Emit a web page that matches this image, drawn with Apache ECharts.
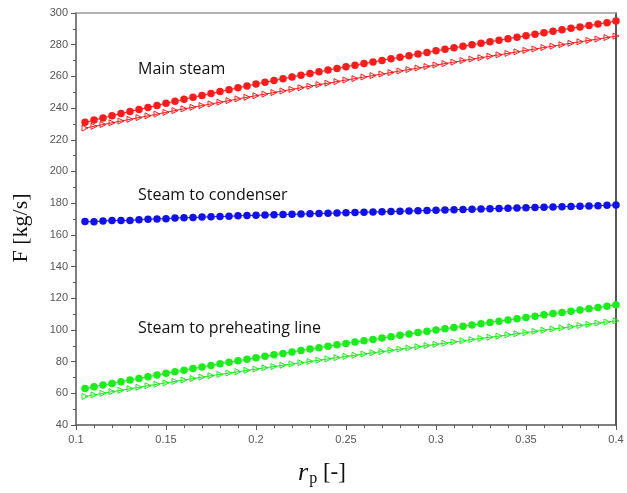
<!DOCTYPE html>
<html>
<head>
<meta charset="utf-8">
<script src="https://cdn.jsdelivr.net/npm/echarts@6/dist/echarts.min.js"></script>
<style>
  html, body { margin: 0; padding: 0; background: #fff; }
  #chart { width: 627px; height: 493px; }
</style>
</head>
<body>
<div id="chart"></div>
<script>
// r_p values, 0.105 .. 0.400 in steps of 0.005 (60 points)
const rp = [
  0.105, 0.110, 0.115, 0.120, 0.125, 0.130, 0.135, 0.140, 0.145, 0.150,
  0.155, 0.160, 0.165, 0.170, 0.175, 0.180, 0.185, 0.190, 0.195, 0.200,
  0.205, 0.210, 0.215, 0.220, 0.225, 0.230, 0.235, 0.240, 0.245, 0.250,
  0.255, 0.260, 0.265, 0.270, 0.275, 0.280, 0.285, 0.290, 0.295, 0.300,
  0.305, 0.310, 0.315, 0.320, 0.325, 0.330, 0.335, 0.340, 0.345, 0.350,
  0.355, 0.360, 0.365, 0.370, 0.375, 0.380, 0.385, 0.390, 0.395, 0.400
];

// main steam, filled circles
const mainSteamA = [
  231.0, 232.4, 233.8, 235.1, 236.5, 237.8, 239.1, 240.4, 241.7, 243.0,
  244.3, 245.5, 246.8, 248.0, 249.2, 250.4, 251.6, 252.8, 254.0, 255.2,
  256.3, 257.4, 258.5, 259.6, 260.7, 261.8, 262.9, 264.0, 265.0, 266.1,
  267.1, 268.1, 269.1, 270.1, 271.1, 272.1, 273.1, 274.1, 275.1, 276.1,
  277.1, 278.0, 279.0, 280.0, 280.9, 281.9, 282.8, 283.8, 284.7, 285.7,
  286.6, 287.5, 288.5, 289.4, 290.3, 291.2, 292.1, 293.0, 293.9, 294.9
];
// main steam, hollow triangles
const mainSteamB = [
  227.4, 228.5, 229.6, 230.7, 231.8, 232.9, 234.0, 235.1, 236.2, 237.3,
  238.4, 239.5, 240.5, 241.6, 242.6, 243.7, 244.7, 245.8, 246.8, 247.8,
  248.8, 249.8, 250.8, 251.8, 252.8, 253.8, 254.8, 255.7, 256.7, 257.7,
  258.6, 259.6, 260.5, 261.5, 262.4, 263.4, 264.3, 265.3, 266.2, 267.2,
  268.1, 269.0, 270.0, 270.9, 271.8, 272.7, 273.6, 274.5, 275.5, 276.4,
  277.3, 278.2, 279.1, 280.0, 280.9, 281.8, 282.7, 283.6, 284.5, 285.4
];
// steam to condenser
const condenser = [
  168.4, 168.2, 168.8, 169.0, 169.0, 169.1, 169.6, 169.9, 170.0, 170.2,
  170.6, 170.8, 170.9, 171.2, 171.4, 171.6, 171.7, 172.0, 172.2, 172.3,
  172.5, 172.7, 172.8, 173.0, 173.1, 173.3, 173.5, 173.6, 173.8, 174.0,
  174.1, 174.3, 174.4, 174.6, 174.7, 174.9, 175.1, 175.2, 175.4, 175.5,
  175.7, 175.9, 176.0, 176.2, 176.3, 176.5, 176.7, 176.8, 177.0, 177.1,
  177.3, 177.4, 177.6, 177.8, 177.9, 178.1, 178.2, 178.4, 178.6, 178.8
];
// steam to preheating line, filled circles
const preheatA = [
  63.0, 64.1, 65.2, 66.2, 67.3, 68.4, 69.4, 70.5, 71.5, 72.6,
  73.6, 74.6, 75.6, 76.6, 77.6, 78.6, 79.6, 80.5, 81.5, 82.4,
  83.4, 84.3, 85.2, 86.1, 87.0, 87.9, 88.8, 89.7, 90.6, 91.4,
  92.3, 93.2, 94.0, 94.9, 95.7, 96.6, 97.4, 98.3, 99.1, 99.9,
  100.7, 101.5, 102.3, 103.1, 103.9, 104.7, 105.5, 106.3, 107.1, 107.9,
  108.7, 109.5, 110.3, 111.0, 111.8, 112.6, 113.4, 114.2, 115.0, 115.9
];
// steam to preheating line, hollow triangles
const preheatB = [
  58.0, 59.0, 60.0, 61.0, 61.9, 62.9, 63.8, 64.8, 65.7, 66.6,
  67.5, 68.4, 69.3, 70.2, 71.1, 71.9, 72.8, 73.6, 74.5, 75.3,
  76.1, 76.9, 77.7, 78.5, 79.3, 80.1, 80.9, 81.7, 82.5, 83.3,
  84.0, 84.8, 85.6, 86.3, 87.1, 87.9, 88.6, 89.4, 90.1, 90.9,
  91.6, 92.4, 93.1, 93.9, 94.6, 95.4, 96.1, 96.9, 97.6, 98.3,
  99.1, 99.8, 100.6, 101.3, 102.0, 102.8, 103.5, 104.3, 105.0, 105.8
];

const labels = ["Main steam", "Steam to condenser", "Steam to preheating line"];

function pairs(ys) {
  return ys.map((y, i) => [rp[i], y]);
}

function dots(name, ys, color) {
  return {
    name, type: "line", data: pairs(ys), xAxisIndex: 0, yAxisIndex: 0,
    symbol: "circle", symbolSize: 7.5, showAllSymbol: true,
    itemStyle: { color },
    lineStyle: { color, width: 1 },
    z: 3,
  };
}
function tris(name, ys, color) {
  return {
    name, type: "line", data: pairs(ys), xAxisIndex: 0, yAxisIndex: 0,
    symbol: "triangle", symbolSize: 6, symbolRotate: -90, showAllSymbol: true,
    itemStyle: { color: "rgba(255,255,255,0)", borderColor: color, borderWidth: 1 },
    lineStyle: { color, width: 1 },
    z: 2,
  };
}

const RED = "#ff1a1a";
const BLUE = "#1010f0";
const GREEN = "#18ee18";

const tickLabel = { color: "#555", fontSize: 11, fontFamily: "Liberation Sans" };
const noteFont = "16px 'Open Sans'";

const chart = echarts.init(document.getElementById("chart"));
chart.setOption({
  animation: false,
  backgroundColor: "#fff",
  grid: { left: 76, right: 11, top: 13, bottom: 68 },
  xAxis: [
    {
      type: "value", min: 0.1, max: 0.4, interval: 0.05,
      axisLine: { lineStyle: { color: "#555", width: 1.5 } },
      axisTick: { length: 5, lineStyle: { color: "#555" } },
      minorTick: { show: true, splitNumber: 5, length: 3, lineStyle: { color: "#555" } },
      splitLine: { show: false },
      axisLabel: Object.assign({ margin: 9 }, tickLabel),
      name: "{i|r}{s|p}{b| [-]}",
      nameLocation: "middle",
      nameGap: 34,
      nameTextStyle: {
        padding: [0, 48, 0, 0],
        rich: {
          i: { fontFamily: "Liberation Serif", fontStyle: "italic", fontSize: 26, color: "#111" },
          s: { fontFamily: "Liberation Serif", fontSize: 16, color: "#111", padding: [12, 0, 0, 1] },
          b: { fontFamily: "Liberation Serif", fontSize: 23, color: "#111" },
        },
      },
    },
    {
      type: "value", position: "top", min: 0.1, max: 0.4,
      axisLine: { show: true, lineStyle: { color: "#999", width: 1.5 } },
      axisTick: { show: false }, axisLabel: { show: false }, splitLine: { show: false },
    },
  ],
  yAxis: [
    {
      type: "value", min: 40, max: 300, interval: 20,
      axisLine: { show: true, lineStyle: { color: "#555", width: 1.5 } },
      axisTick: { show: true, length: 5, lineStyle: { color: "#555" } },
      minorTick: { show: true, splitNumber: 2, length: 3, lineStyle: { color: "#555" } },
      splitLine: { show: false },
      axisLabel: Object.assign({ margin: 8 }, tickLabel),
      name: "F [kg/s]",
      nameLocation: "middle",
      nameGap: 44,
      nameTextStyle: { fontFamily: "Liberation Serif", fontSize: 22, color: "#111", padding: [0, 0, 0, -18] },
    },
    {
      type: "value", position: "right", min: 40, max: 300,
      axisLine: { show: true, lineStyle: { color: "#222", width: 1.5 } },
      axisTick: { show: false }, axisLabel: { show: false }, splitLine: { show: false },
    },
  ],
  graphic: [
    { type: "text", left: 138, top: 61, style: { text: labels[0], font: noteFont, fill: "#111" } },
    { type: "text", left: 138, top: 187, style: { text: labels[1], font: noteFont, fill: "#111" } },
    { type: "text", left: 138, top: 320, style: { text: labels[2], font: noteFont, fill: "#111" } },
  ],
  series: [
    tris("Main steam B", mainSteamB, RED),
    dots("Main steam A", mainSteamA, RED),
    dots("Steam to condenser", condenser, BLUE),
    tris("Preheating B", preheatB, GREEN),
    dots("Preheating A", preheatA, GREEN),
  ],
});
</script>
</body>
</html>
